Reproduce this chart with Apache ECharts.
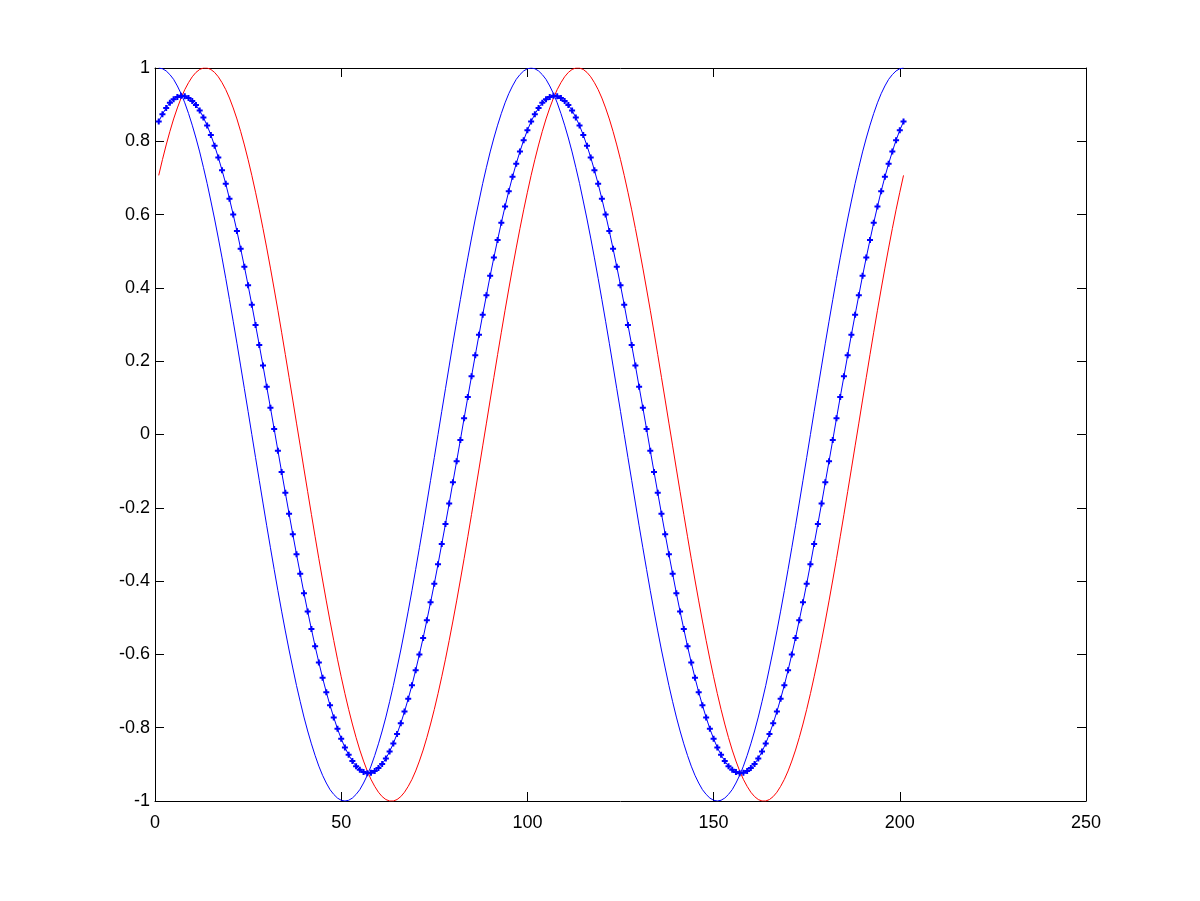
<!DOCTYPE html>
<html>
<head>
<meta charset="utf-8">
<script src="https://cdn.jsdelivr.net/npm/echarts@6/dist/echarts.min.js"></script>
<style>
html,body{margin:0;padding:0;background:#fff;}
#chart{width:1200px;height:901px;}
</style>
</head>
<body>
<div id="chart"></div>
<script>
// Sample index runs 1..201
var blueWave = [
1.000,0.998,0.992,0.982,0.969,0.951,0.930,0.905,0.876,0.844,
0.809,0.771,0.729,0.685,0.637,0.588,0.536,0.482,0.426,0.368,
0.309,0.249,0.187,0.125,0.063,0.000,-0.063,-0.125,-0.187,-0.249,
-0.309,-0.368,-0.426,-0.482,-0.536,-0.588,-0.637,-0.685,-0.729,-0.771,
-0.809,-0.844,-0.876,-0.905,-0.930,-0.951,-0.969,-0.982,-0.992,-0.998,
-1.000,-0.998,-0.992,-0.982,-0.969,-0.951,-0.930,-0.905,-0.876,-0.844,
-0.809,-0.771,-0.729,-0.685,-0.637,-0.588,-0.536,-0.482,-0.426,-0.368,
-0.309,-0.249,-0.187,-0.125,-0.063,0.000,0.063,0.125,0.187,0.249,
0.309,0.368,0.426,0.482,0.536,0.588,0.637,0.685,0.729,0.771,
0.809,0.844,0.876,0.905,0.930,0.951,0.969,0.982,0.992,0.998,
1.000,0.998,0.992,0.982,0.969,0.951,0.930,0.905,0.876,0.844,
0.809,0.771,0.729,0.685,0.637,0.588,0.536,0.482,0.426,0.368,
0.309,0.249,0.187,0.125,0.063,0.000,-0.063,-0.125,-0.187,-0.249,
-0.309,-0.368,-0.426,-0.482,-0.536,-0.588,-0.637,-0.685,-0.729,-0.771,
-0.809,-0.844,-0.876,-0.905,-0.930,-0.951,-0.969,-0.982,-0.992,-0.998,
-1.000,-0.998,-0.992,-0.982,-0.969,-0.951,-0.930,-0.905,-0.876,-0.844,
-0.809,-0.771,-0.729,-0.685,-0.637,-0.588,-0.536,-0.482,-0.426,-0.368,
-0.309,-0.249,-0.187,-0.125,-0.063,0.000,0.063,0.125,0.187,0.249,
0.309,0.368,0.426,0.482,0.536,0.588,0.637,0.685,0.729,0.771,
0.809,0.844,0.876,0.905,0.930,0.951,0.969,0.982,0.992,0.998,
1.000
];
var redWave = [
0.707,0.750,0.790,0.827,0.861,0.891,0.918,0.941,0.960,0.976,
0.988,0.996,1.000,1.000,0.996,0.988,0.976,0.960,0.941,0.918,
0.891,0.861,0.827,0.790,0.750,0.707,0.661,0.613,0.562,0.509,
0.454,0.397,0.339,0.279,0.218,0.156,0.094,0.031,-0.031,-0.094,
-0.156,-0.218,-0.279,-0.339,-0.397,-0.454,-0.509,-0.562,-0.613,-0.661,
-0.707,-0.750,-0.790,-0.827,-0.861,-0.891,-0.918,-0.941,-0.960,-0.976,
-0.988,-0.996,-1.000,-1.000,-0.996,-0.988,-0.976,-0.960,-0.941,-0.918,
-0.891,-0.861,-0.827,-0.790,-0.750,-0.707,-0.661,-0.613,-0.562,-0.509,
-0.454,-0.397,-0.339,-0.279,-0.218,-0.156,-0.094,-0.031,0.031,0.094,
0.156,0.218,0.279,0.339,0.397,0.454,0.509,0.562,0.613,0.661,
0.707,0.750,0.790,0.827,0.861,0.891,0.918,0.941,0.960,0.976,
0.988,0.996,1.000,1.000,0.996,0.988,0.976,0.960,0.941,0.918,
0.891,0.861,0.827,0.790,0.750,0.707,0.661,0.613,0.562,0.509,
0.454,0.397,0.339,0.279,0.218,0.156,0.094,0.031,-0.031,-0.094,
-0.156,-0.218,-0.279,-0.339,-0.397,-0.454,-0.509,-0.562,-0.613,-0.661,
-0.707,-0.750,-0.790,-0.827,-0.861,-0.891,-0.918,-0.941,-0.960,-0.976,
-0.988,-0.996,-1.000,-1.000,-0.996,-0.988,-0.976,-0.960,-0.941,-0.918,
-0.891,-0.861,-0.827,-0.790,-0.750,-0.707,-0.661,-0.613,-0.562,-0.509,
-0.454,-0.397,-0.339,-0.279,-0.218,-0.156,-0.094,-0.031,0.031,0.094,
0.156,0.218,0.279,0.339,0.397,0.454,0.509,0.562,0.613,0.661,
0.707
];
var dottedWave = [
0.854,0.874,0.891,0.905,0.915,0.921,0.924,0.923,0.918,0.910,
0.899,0.884,0.865,0.843,0.817,0.788,0.756,0.721,0.684,0.643,
0.600,0.555,0.507,0.458,0.407,0.354,0.299,0.244,0.188,0.130,
0.073,0.015,-0.044,-0.102,-0.159,-0.216,-0.272,-0.327,-0.380,-0.433,
-0.483,-0.531,-0.578,-0.622,-0.664,-0.703,-0.739,-0.772,-0.803,-0.830,
-0.854,-0.874,-0.891,-0.905,-0.915,-0.921,-0.924,-0.923,-0.918,-0.910,
-0.899,-0.884,-0.865,-0.843,-0.817,-0.788,-0.756,-0.721,-0.684,-0.643,
-0.600,-0.555,-0.507,-0.458,-0.407,-0.354,-0.299,-0.244,-0.188,-0.130,
-0.073,-0.015,0.044,0.102,0.159,0.216,0.272,0.327,0.380,0.433,
0.483,0.531,0.578,0.622,0.664,0.703,0.739,0.772,0.803,0.830,
0.854,0.874,0.891,0.905,0.915,0.921,0.924,0.923,0.918,0.910,
0.899,0.884,0.865,0.843,0.817,0.788,0.756,0.721,0.684,0.643,
0.600,0.555,0.507,0.458,0.407,0.354,0.299,0.244,0.188,0.130,
0.073,0.015,-0.044,-0.102,-0.159,-0.216,-0.272,-0.327,-0.380,-0.433,
-0.483,-0.531,-0.578,-0.622,-0.664,-0.703,-0.739,-0.772,-0.803,-0.830,
-0.854,-0.874,-0.891,-0.905,-0.915,-0.921,-0.924,-0.923,-0.918,-0.910,
-0.899,-0.884,-0.865,-0.843,-0.817,-0.788,-0.756,-0.721,-0.684,-0.643,
-0.600,-0.555,-0.507,-0.458,-0.407,-0.354,-0.299,-0.244,-0.188,-0.130,
-0.073,-0.015,0.044,0.102,0.159,0.216,0.272,0.327,0.380,0.433,
0.483,0.531,0.578,0.622,0.664,0.703,0.739,0.772,0.803,0.830,
0.854
];

function pairs(arr){ return arr.map(function(y,i){ return [i+1, y]; }); }

var chart = echarts.init(document.getElementById('chart'), null, {renderer:'canvas'});
var font = {fontFamily:'Liberation Sans, Arial, sans-serif', fontSize:18, color:'#000'};
var lineCol = {color:'#000', width:1};
chart.setOption({
  animation:false,
  backgroundColor:'#fff',
  grid:{left:155, right:114, top:68, bottom:100, containLabel:false},
  xAxis:[
    {type:'value', position:'bottom', min:0, max:250, interval:50,
     axisLine:{show:true, onZero:false, lineStyle:lineCol},
     axisTick:{show:true, inside:true, length:9, lineStyle:lineCol},
     axisLabel:Object.assign({margin:13}, font),
     splitLine:{show:false}},
    {type:'value', position:'top', min:0, max:250, interval:50,
     axisLine:{show:true, onZero:false, lineStyle:lineCol},
     axisTick:{show:true, inside:true, length:9, lineStyle:lineCol},
     axisLabel:{show:false}, splitLine:{show:false}}
  ],
  yAxis:[
    {type:'value', position:'left', min:-1, max:1, interval:0.2,
     axisLine:{show:true, onZero:false, lineStyle:lineCol},
     axisTick:{show:true, inside:true, length:9, lineStyle:lineCol},
     axisLabel:Object.assign({margin:5}, font),
     splitLine:{show:false}},
    {type:'value', position:'right', min:-1, max:1, interval:0.2,
     axisLine:{show:true, onZero:false, lineStyle:lineCol},
     axisTick:{show:true, inside:true, length:9, lineStyle:lineCol},
     axisLabel:{show:false}, splitLine:{show:false}}
  ],
  series:[
    {type:'line', data:pairs(blueWave), showSymbol:false, symbol:'none',
     lineStyle:{color:'#0000ff', width:1}, itemStyle:{color:'#0000ff'}},
    {type:'line', data:pairs(redWave), showSymbol:false, symbol:'none',
     lineStyle:{color:'#ff0000', width:1}, itemStyle:{color:'#ff0000'}},
    {type:'line', data:pairs(dottedWave), showSymbol:true, showAllSymbol:true,
     symbol:'path://M2,0H4V2H6V4H4V6H2V4H0V2H2Z', symbolSize:6,
     lineStyle:{color:'#0000ff', width:1}, itemStyle:{color:'#0000ff', borderWidth:0}}
  ]
});
</script>
</body>
</html>
